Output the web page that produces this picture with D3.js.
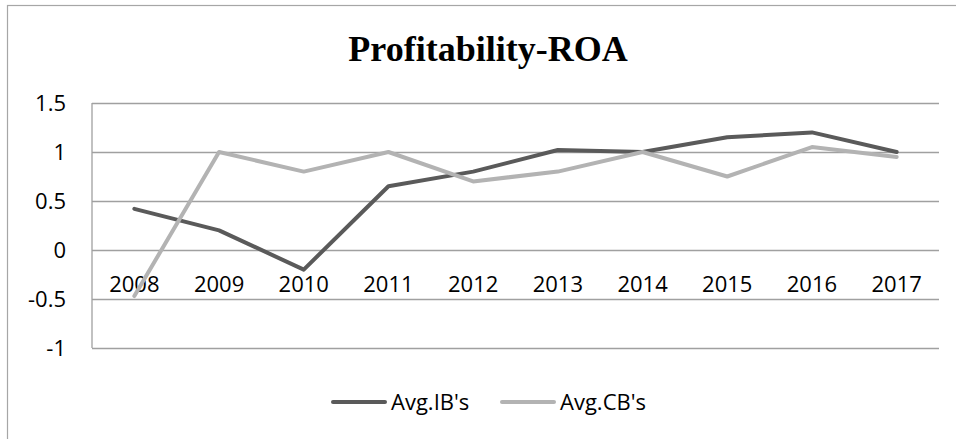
<!DOCTYPE html>
<html lang="en">
<head>
<meta charset="utf-8">
<title>Profitability-ROA</title>
<script src="https://cdn.jsdelivr.net/npm/d3@7"></script>
<style>
  body { margin: 0; background: #fff; }
  svg { display: block; }
  .tick text { font-family: "Open Sans", sans-serif; font-size: 22px; fill: #000; }
  .legend text { font-family: "Open Sans", sans-serif; font-size: 22px; fill: #000; }
</style>
</head>
<body>
<svg width="956" height="439"></svg>
<script>
var years = ["2008", "2009", "2010", "2011", "2012", "2013", "2014", "2015", "2016", "2017"];
var avgIB = [0.42, 0.2, -0.2, 0.65, 0.8, 1.02, 1.0, 1.15, 1.2, 1.0];
var avgCB = [-0.47, 1.0, 0.8, 1.0, 0.7, 0.8, 1.0, 0.75, 1.05, 0.95];
var yTicks = [-1, -0.5, 0, 0.5, 1, 1.5];

var series = [
  {name: "Avg.IB's", values: avgIB, color: "#5a5a5a"},
  {name: "Avg.CB's", values: avgCB, color: "#b3b3b3"}
];

var svg = d3.select("svg"),
    margin = {top: 103, right: 17, bottom: 91, left: 92},
    width = +svg.attr("width") - margin.left - margin.right,
    height = +svg.attr("height") - margin.top - margin.bottom;

// outer chart frame
svg.append("rect")
    .attr("x", 7.5).attr("y", 5.5)
    .attr("width", 980).attr("height", 480)
    .attr("fill", "none").attr("stroke", "#a6a6a6").attr("stroke-width", 1.2);

svg.append("text")
    .attr("x", 488).attr("y", 61)
    .attr("text-anchor", "middle")
    .style("font-family", "'Liberation Serif', 'Times New Roman', serif")
    .style("font-weight", "bold")
    .style("font-size", "36px")
    .text("Profitability-ROA");

var g = svg.append("g").attr("transform", "translate(" + margin.left + "," + margin.top + ")");

var x = d3.scaleBand().domain(years).range([0, width]);
var y = d3.scaleLinear().domain([-1, 1.5]).range([height, 0]);

// gridlines + y labels
var yAxis = g.append("g")
    .call(d3.axisLeft(y).tickValues(yTicks).tickSize(-width).tickPadding(26)
      .tickFormat(function(d) { return String(d); }));
yAxis.select(".domain").remove();
yAxis.selectAll(".tick line").attr("stroke", "#a0a0a0").attr("stroke-width", 1.3);

// left axis line
g.append("line")
    .attr("x1", 0).attr("x2", 0).attr("y1", 0).attr("y2", height)
    .attr("stroke", "#a0a0a0").attr("stroke-width", 1.3);

// category labels sit below the zero line
var xAxis = g.append("g")
    .attr("transform", "translate(0," + y(0) + ")")
    .call(d3.axisBottom(x).tickSize(0).tickPadding(26));
xAxis.select(".domain").remove();
xAxis.selectAll(".tick text").attr("dy", "0.71em");

var line = d3.line()
    .x(function(d, i) { return x(years[i]) + x.bandwidth() / 2; })
    .y(function(d) { return y(d); });

g.selectAll(".serie")
  .data(series)
  .enter().append("path")
    .attr("class", "serie")
    .attr("fill", "none")
    .attr("stroke", function(d) { return d.color; })
    .attr("stroke-width", 4)
    .attr("stroke-linejoin", "round")
    .attr("stroke-linecap", "round")
    .attr("d", function(d) { return line(d.values); });

// legend
var legendX = [333, 502];
var legend = svg.selectAll(".legend")
  .data(series)
  .enter().append("g")
    .attr("class", "legend")
    .attr("transform", function(d, i) { return "translate(" + legendX[i] + ",402)"; });

legend.append("line")
    .attr("x1", 0).attr("x2", 52)
    .attr("stroke", function(d) { return d.color; })
    .attr("stroke-width", 4)
    .attr("stroke-linecap", "round");

legend.append("text")
    .attr("x", 58).attr("dy", "0.35em")
    .text(function(d) { return d.name; });
</script>
</body>
</html>
